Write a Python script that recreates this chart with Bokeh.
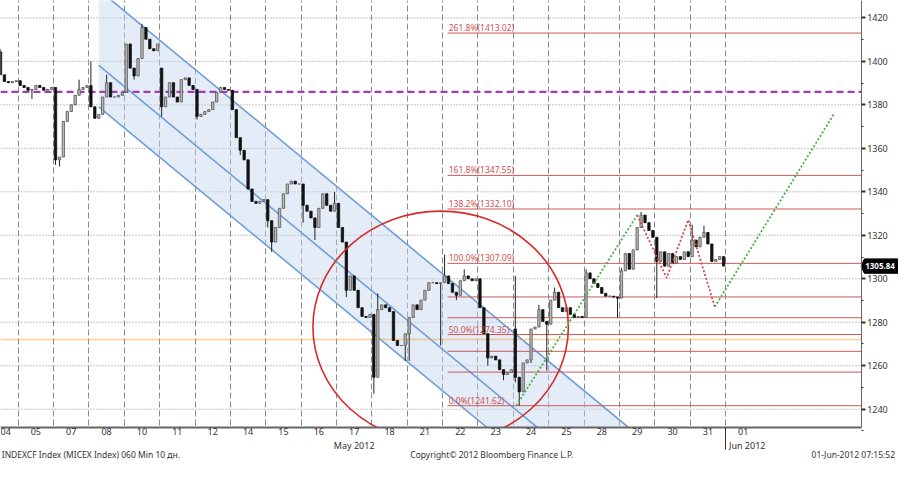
from bokeh.plotting import figure
from bokeh.models import (Range1d, FixedTicker, Label, ColumnDataSource, LinearAxis,
                          PrintfTickFormatter)
from bokeh.embed import file_html
from bokeh.resources import INLINE

# ---------------- data ----------------
day_labels = ["04", "05", "07", "08", "10", "11", "12", "14", "15", "16", "17",
              "18", "21", "22", "23", "24", "25", "28", "29", "30", "31", "01"]
bars_per_day = 9

# hourly closes (bar index 0 = first visible bar, mid-session of 04 May)
close = [
    1393.8, 1390.7, 1390.2, 1390.7, 1391.1,                                   # 04
    1388.9, 1388.0, 1386.7, 1387.1, 1388.9, 1388.0, 1386.7, 1387.1, 1388.0,   # 05
    1354.7, 1356.0, 1372.4, 1376.9, 1380.0, 1384.4, 1387.1, 1388.0, 1388.9,   # 07
    1379.1, 1373.8, 1375.6, 1383.6, 1390.2, 1383.6, 1383.6, 1384.4, 1385.8,   # 08
    1408.0, 1396.9, 1393.3, 1401.3, 1415.6, 1410.2, 1405.8, 1404.9, 1408.0,   # 10
    1379.1, 1383.6, 1390.2, 1383.6, 1381.3, 1391.6, 1392.4, 1388.9, 1387.1,   # 11
    1374.7, 1375.6, 1376.9, 1377.8, 1381.3, 1385.8, 1388.0, 1387.1, 1386.7,   # 12
    1377.8, 1364.9, 1359.1, 1354.7, 1341.3, 1335.6, 1334.7, 1335.6, 1336.4,   # 14
    1326.7, 1316.9, 1323.6, 1332.4, 1339.1, 1343.6, 1344.9, 1343.6, 1343.6,   # 15
    1333.8, 1331.1, 1328.0, 1323.6, 1332.4, 1339.1, 1333.8, 1331.1, 1334.7,   # 16
    1323.6, 1316.9, 1294.7, 1301.3, 1294.7, 1286.7, 1282.7, 1282.2, 1283.6,   # 17
    1254.7, 1285.8, 1288.0, 1286.7, 1284.9, 1271.6, 1269.3, 1269.3, 1274.7,   # 18
    1282.2, 1288.0, 1285.8, 1290.2, 1294.7, 1298.2, 1298.2, 1297.8, 1298.2,   # 21
    1301.3, 1297.8, 1293.8, 1292.4, 1299.1, 1301.3, 1300.0, 1299.1, 1300.0,   # 22
    1286.7, 1274.7, 1263.6, 1264.4, 1262.7, 1258.2, 1256.0, 1256.9, 1258.2,   # 23
    1254.7, 1248.0, 1261.3, 1262.7, 1276.9, 1277.8, 1285.8, 1280.4, 1279.1,   # 24
    1290.2, 1293.8, 1286.7, 1284.9, 1286.7, 1283.6, 1282.2, 1282.7, 1282.2,   # 25
    1302.7, 1300.0, 1297.8, 1296.0, 1293.3, 1292.0, 1292.0, 1291.6, 1291.1,   # 28
    1303.6, 1311.6, 1304.4, 1313.3, 1323.6, 1329.3, 1325.8, 1322.2, 1319.1,   # 29
    1308.0, 1312.4, 1305.8, 1311.6, 1307.1, 1310.2, 1308.9, 1312.4, 1310.2,   # 30
    1317.8, 1314.7, 1319.1, 1321.3, 1316.0, 1308.0, 1308.9, 1310.2, 1305.84,  # 31
]
# opens that differ from the previous close (gaps)
open_gaps = {0: 1404.4, 41: 1396.9, 131: 1276.9}
# notable wicks
high_wicks = {0: 1405.8, 20: 1391.6, 23: 1400.0, 27: 1393.8, 36: 1417.3, 85: 1340.0,
              96: 1293.3, 113: 1311.1, 118: 1304.4, 131: 1301.3, 137: 1288.0,
              141: 1296.0, 149: 1304.4, 158: 1304.9, 163: 1330.7, 176: 1324.9, 179: 1324.4}
low_wicks = {8: 1382.7, 14: 1352.4, 15: 1351.6, 34: 1391.6, 41: 1374.7, 50: 1373.3,
             61: 1356.9, 68: 1323.6, 69: 1312.4, 77: 1325.8, 80: 1317.8, 88: 1291.6,
             95: 1247.1, 103: 1262.2, 104: 1262.2, 112: 1269.3, 116: 1290.2, 124: 1260.0,
             128: 1253.3, 131: 1252.4, 132: 1241.62, 135: 1261.3, 139: 1257.8,
             157: 1282.2, 167: 1291.1}

last_price = 1305.84
purple_level = 1386.0
orange_level = 1272.1

fib_levels = [1241.62, 1257.07, 1266.63, 1274.35, 1282.08, 1291.64, 1307.09, 1332.10, 1347.55, 1413.02]
fib_texts = {1241.62: "0.0%(1241.62)", 1274.35: "50.0%(1274.35)", 1307.09: "100.0%(1307.09)",
             1332.10: "138.2%(1332.10)", 1347.55: "161.8%(1347.55)", 1413.02: "261.8%(1413.02)"}
fib_start_bar = 113.75

# regression channel (bar, price) anchors
channel_bars = [25, 200]
channel_upper = [1432.9, 1171.6]
channel_middle = [1398.2, 1136.9]
channel_lower = [1379.1, 1117.8]

# projection lines
green1_x = [131.25, 162.0]
green1_y = [1241.62, 1329.3]
red_zig_x = [162.0, 169.5, 175.0, 181.75]
red_zig_y = [1329.3, 1300.4, 1327.1, 1287.1]
green2_x = [181.75, 212.0]
green2_y = [1287.1, 1375.6]

# circle (ellipse) highlight
circle_x, circle_y, circle_w, circle_h = 112.0, 1277.8, 65.0, 106.7

y_ticks = list(range(1240, 1421, 20))
y_minor = list(range(1230, 1431, 10))

month_ticks = {90: "May 2012", 190: "Jun 2012"}
month_sep = 184.5
footer_ticks = {23: "INDEXCF Index (MICEX Index) 060 Min 10 дн.",
                125: "Copyright© 2012 Bloomberg Finance L.P.",
                217: "01-Jun-2012 07:15:52"}

# ---------------- build ----------------
FONT = "Noto Sans"
TXT = "#333333"
n = len(close)
xs = list(range(n))
opens, highs, lows = [], [], []
prev = None
for k, c in enumerate(close):
    o = open_gaps.get(k, prev if prev is not None else c)
    opens.append(o)
    highs.append(high_wicks.get(k, max(o, c)))
    lows.append(low_wicks.get(k, min(o, c)))
    prev = c

up = [c >= o for o, c in zip(opens, close)]
src_up = ColumnDataSource(dict(x=[x for x, u in zip(xs, up) if u],
                               top=[max(o, c) for o, c, u in zip(opens, close, up) if u],
                               bottom=[min(o, c) for o, c, u in zip(opens, close, up) if u]))
src_dn = ColumnDataSource(dict(x=[x for x, u in zip(xs, up) if not u],
                               top=[max(o, c) for o, c, u in zip(opens, close, up) if not u],
                               bottom=[min(o, c) for o, c, u in zip(opens, close, up) if not u]))

x_axis_at = 219          # bar position of the price axis
x_end = 228.5            # frame extends under the price labels
y_lo, y_hi = 1231.6, 1428  # visible price window
y_min = 1215.95          # frame extends under the date labels

p = figure(width=898, height=461, x_range=Range1d(0, x_end), y_range=Range1d(y_min, y_hi),
           output_backend="svg", toolbar_location=None, y_axis_location="right",
           min_border_left=0, min_border_top=0, min_border_right=0, min_border_bottom=0,
           outline_line_color=None, background_fill_color="white", border_fill_color="white")

# grids
sep = [4.5 + bars_per_day * d for d in range(21)]
p.xgrid.ticker = FixedTicker(ticks=sep)
p.xgrid.grid_line_color = "#8a8a8a"
p.xgrid.grid_line_dash = "6 3"
p.xgrid.grid_line_width = 1
p.ygrid.visible = False
p.segment(x0=[0] * len(y_ticks), x1=[x_axis_at] * len(y_ticks), y0=y_ticks, y1=y_ticks,
          line_color="#8a8a8a", line_dash="1 2", line_width=1)

# channel fill + lines
p.patch(x=[channel_bars[0], channel_bars[1], channel_bars[1], channel_bars[0]],
        y=[channel_upper[0], channel_upper[1], channel_lower[1], channel_lower[0]],
        fill_color="#c3d5f0", fill_alpha=0.45, line_color=None)
for ys in (channel_upper, channel_middle, channel_lower):
    p.line(channel_bars, ys, line_color="#6f9dd6", line_width=1.6)

# horizontal reference lines
p.line([0, x_axis_at], [orange_level, orange_level], line_color="#f0a030",
       line_dash="1 1", line_width=1.5)
p.line([0, x_axis_at], [purple_level, purple_level], line_color="#a23cb4",
       line_dash="7 4", line_width=2.2)

# fib levels
p.segment(x0=[fib_start_bar] * len(fib_levels), x1=[x_axis_at] * len(fib_levels),
          y0=fib_levels, y1=fib_levels, line_color="#cc5a5a", line_width=1)
for lvl, txt in fib_texts.items():
    p.add_layout(Label(x=fib_start_bar + 0.3, y=lvl, text=txt, text_font=FONT,
                       text_font_size="8.5px", text_color="#d05050",
                       text_baseline="bottom", y_offset=0))

# candles
p.segment(x0=xs, x1=xs, y0=lows, y1=highs, line_color="#222222", line_width=1)
p.vbar(x="x", top="top", bottom="bottom", width=0.6, source=src_up,
       fill_color="#b8b8b8", line_color="#555555", line_width=0.8)
p.vbar(x="x", top="top", bottom="bottom", width=0.6, source=src_dn,
       fill_color="#111111", line_color="#111111", line_width=0.8)

# circle highlight
p.ellipse(x=[circle_x], y=[circle_y], width=[circle_w], height=[circle_h],
          fill_color=None, line_color="#d42a2a", line_width=1.6)

# projections
p.line(green1_x, green1_y, line_color="#44b044", line_dash="2 2", line_width=1.8)
p.line(red_zig_x, red_zig_y, line_color="#d84848", line_dash="2 2", line_width=1.8)
p.line(green2_x, green2_y, line_color="#44b044", line_dash="2 2", line_width=1.8)

# white band under the price window (holds the date texts)
p.quad(left=[0], right=[x_end], top=[y_lo], bottom=[y_min], fill_color="white",
       line_color=None)

# last price tag: black pointer box right of the price axis
p.patch(x=[x_axis_at, x_axis_at + 0.8, x_end, x_end, x_axis_at + 0.8],
        y=[last_price, last_price + 3.3, last_price + 3.3, last_price - 3.3, last_price - 3.3],
        fill_color="black", line_color="black")

# x axis (days)
xa = p.xaxis[0]
xa.fixed_location = y_lo
xa.ticker = FixedTicker(ticks=[bars_per_day * d for d in range(len(day_labels))])
xa.major_label_overrides = {bars_per_day * d: lab for d, lab in enumerate(day_labels)}
xa.bounds = (0, x_axis_at)
xa.major_tick_line_color = None
xa.minor_tick_line_color = None
xa.major_tick_out = 0
xa.major_tick_in = 0
xa.minor_tick_out = 0
xa.minor_tick_in = 0
xa.axis_line_color = "#666666"
xa.axis_line_width = 2
xa.major_label_text_font = FONT
xa.major_label_text_font_size = "9px"
xa.major_label_text_color = TXT
xa.major_label_standoff = 1


def text_axis(ticks, labels, size, standoff):
    ax = LinearAxis(ticker=FixedTicker(ticks=ticks), fixed_location=y_lo,
                    major_label_overrides=labels, axis_line_color=None,
                    major_tick_line_color=None, minor_tick_line_color=None,
                    major_tick_out=0, major_tick_in=0, minor_tick_out=0, minor_tick_in=0,
                    major_label_standoff=standoff, major_label_text_font=FONT,
                    major_label_text_font_size=size, major_label_text_color=TXT)
    p.add_layout(ax, "below")
    return ax


text_axis(list(month_ticks.keys()), month_ticks, "9px", 12)
text_axis(list(footer_ticks.keys()), footer_ticks, "8.5px", 22)
sep_axis = LinearAxis(ticker=FixedTicker(ticks=[], minor_ticks=[month_sep]), fixed_location=y_lo,
                      axis_line_color=None, major_tick_line_color=None,
                      minor_tick_line_color="#333333", minor_tick_out=22, minor_tick_in=0)
p.add_layout(sep_axis, "below")

# y axis
ya = p.yaxis[0]
ya.fixed_location = x_axis_at
ya.bounds = (y_lo, y_hi)
ya.ticker = FixedTicker(ticks=y_ticks, minor_ticks=y_minor)
ya.major_tick_out = 4
ya.major_tick_in = 0
ya.major_tick_line_width = 2
ya.major_tick_line_color = "#333333"
ya.minor_tick_out = 2
ya.minor_tick_in = 0
ya.minor_tick_line_color = "#333333"
ya.axis_line_color = "#666666"
ya.axis_line_width = 1
ya.major_label_text_font = FONT
ya.major_label_text_font_size = "9px"
ya.major_label_text_color = TXT
ya.major_label_standoff = 2

# last price text on the tag
tag_axis = LinearAxis(ticker=FixedTicker(ticks=[last_price], minor_ticks=[]),
                      fixed_location=x_axis_at,
                      formatter=PrintfTickFormatter(format="%.2f"), axis_line_color=None,
                      major_tick_line_color=None, minor_tick_line_color=None,
                      major_tick_out=0, major_tick_in=0, minor_tick_out=0, minor_tick_in=0,
                      major_label_standoff=4, major_label_text_font=FONT,
                      major_label_text_font_size="8px", major_label_text_font_style="bold",
                      major_label_text_color="white")
p.add_layout(tag_axis, "right")

open("out.html", "w").write(file_html(p, INLINE))
